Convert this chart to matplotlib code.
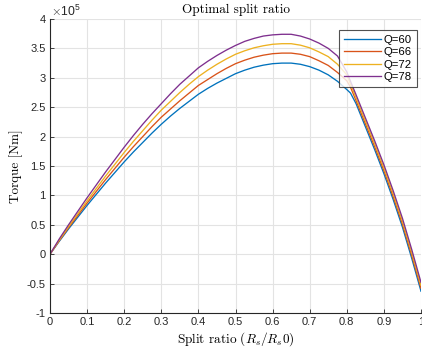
import matplotlib
matplotlib.use("Agg")
import matplotlib.pyplot as plt

# split ratio samples
split = [0.0, 0.025, 0.05, 0.075, 0.1, 0.125, 0.15, 0.175, 0.2, 0.225, 0.25,
         0.275, 0.3, 0.325, 0.35, 0.375, 0.4, 0.425, 0.45, 0.475, 0.5, 0.525,
         0.55, 0.575, 0.6, 0.625, 0.65, 0.675, 0.7, 0.725, 0.75, 0.775, 0.8,
         0.81, 0.825, 0.85, 0.875, 0.9, 0.925, 0.95, 0.975, 1.0]

# torque in units of 1e5 Nm
q60 = [0.0, 0.22, 0.43, 0.63, 0.83, 1.02, 1.21, 1.39, 1.57, 1.74, 1.90,
       2.06, 2.21, 2.35, 2.48, 2.60, 2.72, 2.82, 2.91, 2.99, 3.07, 3.13,
       3.18, 3.215, 3.24, 3.25, 3.25, 3.23, 3.19, 3.13, 3.05, 2.94, 2.80,
       2.74, 2.56, 2.17, 1.78, 1.37, 0.93, 0.46, -0.07, -0.63]
q66 = [0.0, 0.23, 0.45, 0.66, 0.87, 1.07, 1.27, 1.46, 1.65, 1.83, 2.00,
       2.17, 2.33, 2.47, 2.61, 2.74, 2.87, 2.97, 3.07, 3.16, 3.24, 3.30,
       3.35, 3.385, 3.41, 3.42, 3.42, 3.40, 3.36, 3.29, 3.21, 3.09, 2.95,
       2.84, 2.61, 2.22, 1.83, 1.42, 0.98, 0.51, -0.02, -0.58]
q72 = [0.0, 0.24, 0.47, 0.69, 0.91, 1.12, 1.33, 1.53, 1.73, 1.92, 2.10,
       2.28, 2.45, 2.60, 2.75, 2.89, 3.02, 3.13, 3.23, 3.32, 3.40, 3.46,
       3.51, 3.545, 3.57, 3.58, 3.58, 3.555, 3.51, 3.44, 3.36, 3.23, 3.05,
       2.89, 2.66, 2.27, 1.88, 1.47, 1.03, 0.56, 0.03, -0.53]
q78 = [0.0, 0.26, 0.50, 0.73, 0.96, 1.18, 1.40, 1.61, 1.82, 2.02, 2.21,
       2.39, 2.56, 2.73, 2.89, 3.03, 3.17, 3.28, 3.38, 3.47, 3.55, 3.62,
       3.67, 3.71, 3.73, 3.74, 3.74, 3.71, 3.66, 3.59, 3.50, 3.37, 3.10,
       2.94, 2.71, 2.32, 1.93, 1.52, 1.08, 0.61, 0.08, -0.48]

labels = ["Q=60", "Q=66", "Q=72", "Q=78"]
colors = ["#0072BD", "#D95319", "#EDB120", "#7E2F8E"]

xticks = [0, 0.1, 0.2, 0.3, 0.4, 0.5, 0.6, 0.7, 0.8, 0.9, 1]
xticklabels = ["0", "0.1", "0.2", "0.3", "0.4", "0.5", "0.6", "0.7", "0.8", "0.9", "1"]
yticks = [-1, -0.5, 0, 0.5, 1, 1.5, 2, 2.5, 3, 3.5, 4]
yticklabels = ["-1", "-0.5", "0", "0.5", "1", "1.5", "2", "2.5", "3", "3.5", "4"]

plt.rcParams["font.family"] = ["Liberation Sans", "DejaVu Sans"]
plt.rcParams["mathtext.fontset"] = "cm"

fig = plt.figure(figsize=(4.22, 3.54), dpi=100)
ax = fig.add_axes([50 / 422, 1 - 313 / 354, 371 / 422, 294 / 354])

for vals, lab, col in zip([q60, q66, q72, q78], labels, colors):
    ax.plot(split, [v * 1e5 for v in vals], color=col, lw=0.95, label=lab)

ax.set_xlim(0, 1)
ax.set_ylim(-1e5, 4e5)
ax.set_xticks(xticks)
ax.set_xticklabels(xticklabels)
ax.set_yticks([v * 1e5 for v in yticks])
ax.set_yticklabels(yticklabels)
ax.tick_params(direction="in", length=3, width=0.6, labelsize=8,
               colors="#262626", pad=3)
ax.grid(True, color="#e3e3e3", lw=0.8)
ax.set_axisbelow(True)
for s in ["top", "right"]:
    ax.spines[s].set_visible(False)
for s in ["left", "bottom"]:
    ax.spines[s].set_color("#262626")
    ax.spines[s].set_linewidth(0.8)

# MATLAB style exponent above the y axis
ax.text(0.004, 1.0, r"$\times\mathregular{10^{5}}$", transform=ax.transAxes,
        fontsize=8.8, color="#262626", va="bottom", ha="left")

serif = ["cmr10", "DejaVu Serif"]
ax.set_title("Optimal split ratio", fontsize=9.5, family=serif, pad=4)
ax.set_xlabel(r"Split ratio ($R_s/R_s0$)", fontsize=9.5, family=serif, labelpad=2)
ax.set_ylabel("Torque [Nm]", fontsize=9.5, family=serif, labelpad=3)

leg = ax.legend(loc="upper right", bbox_to_anchor=(417 / 422, 1 - 30 / 354),
                bbox_transform=fig.transFigure, fontsize=8.2, frameon=True,
                fancybox=False, edgecolor="#262626", handlelength=3.2,
                handletextpad=0.25, labelspacing=0.2, borderpad=0.45,
                borderaxespad=0)
leg.get_frame().set_linewidth(0.8)

plt.savefig("out.png", dpi=100)
